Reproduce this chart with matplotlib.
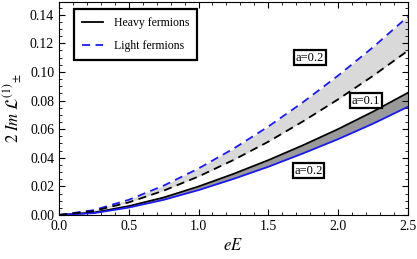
import matplotlib
matplotlib.use("Agg")
import matplotlib.pyplot as plt
from matplotlib.ticker import MultipleLocator, FormatStrFormatter

plt.rcParams["font.family"] = ["Liberation Serif", "DejaVu Serif"]
plt.rcParams["mathtext.fontset"] = "stix"

# field strength eE
eE = [0.0, 0.25, 0.5, 0.75, 1.0, 1.25, 1.5, 1.75, 2.0, 2.25, 2.5]

# heavy fermions (solid), a=0.1 upper / a=0.2 lower
heavy_a01 = [0.0, 0.0017, 0.0062, 0.0122, 0.0199, 0.0287, 0.0383, 0.0488, 0.0600, 0.0722, 0.0854]
heavy_a02 = [0.0, 0.0013, 0.0052, 0.0106, 0.0174, 0.0252, 0.0337, 0.0431, 0.0530, 0.0638, 0.0756]

# light fermions (dashed)
light_black = [0.0, 0.0028, 0.0088, 0.0170, 0.0269, 0.0384, 0.0512, 0.0655, 0.0808, 0.0972, 0.1148]
light_blue = [0.0, 0.0034, 0.0106, 0.0205, 0.0325, 0.0463, 0.0618, 0.0789, 0.0974, 0.1172, 0.1386]

labels = [("a=0.2", 1.80, 0.110), ("a=0.1", 2.20, 0.080), ("a=0.2", 1.79, 0.031)]

BLUE = "#1a1aff"

fig = plt.figure(figsize=(4.17, 2.59), dpi=100)
ax = fig.add_axes([0.1415, 0.17, 0.8365, 0.823])

ax.fill_between(eE, light_black, light_blue, color="#d9d9d9", lw=0)
ax.fill_between(eE, heavy_a02, heavy_a01, color="#9a9a9a", lw=0)

ax.plot(eE, heavy_a01, color="black", lw=1.3, label="Heavy fermions")
ax.plot(eE, heavy_a02, color=BLUE, lw=1.3)
ax.plot(eE, light_blue, color=BLUE, lw=1.3, ls=(0, (4.5, 3)), label="Light fermions")
ax.plot(eE, light_black, color="black", lw=1.3, ls=(0, (4.5, 3)))

for txt, x, y in labels:
    ax.text(x, y, txt, ha="center", va="center", fontsize=9,
            bbox=dict(boxstyle="square,pad=0.12", fc="white", ec="black", lw=1.6))

ax.set_xlim(0, 2.5)
ax.set_ylim(0, 0.149)
ax.xaxis.set_major_locator(MultipleLocator(0.5))
ax.xaxis.set_minor_locator(MultipleLocator(0.1))
ax.yaxis.set_major_locator(MultipleLocator(0.02))
ax.yaxis.set_minor_locator(MultipleLocator(0.005))
ax.xaxis.set_major_formatter(FormatStrFormatter("%.1f"))
ax.yaxis.set_major_formatter(FormatStrFormatter("%.2f"))
ax.tick_params(which="both", direction="in", top=True, right=True, labelsize=10)
ax.tick_params(which="major", length=4)
ax.tick_params(which="minor", length=2)

ax.set_xlabel(r"$eE$", fontsize=12)
ax.set_ylabel(r"$2\ Im\ \mathcal{L}^{(1)}{}_{\pm}$", fontsize=12)

leg = ax.legend(loc="upper left", bbox_to_anchor=(0.025, 0.995), fontsize=8.5, fancybox=False,
                framealpha=1, edgecolor="black", handlelength=1.8, borderpad=0.7,
                labelspacing=0.9, handletextpad=0.9)
leg.get_frame().set_linewidth(1.6)

fig.savefig("out.png", dpi=100)
